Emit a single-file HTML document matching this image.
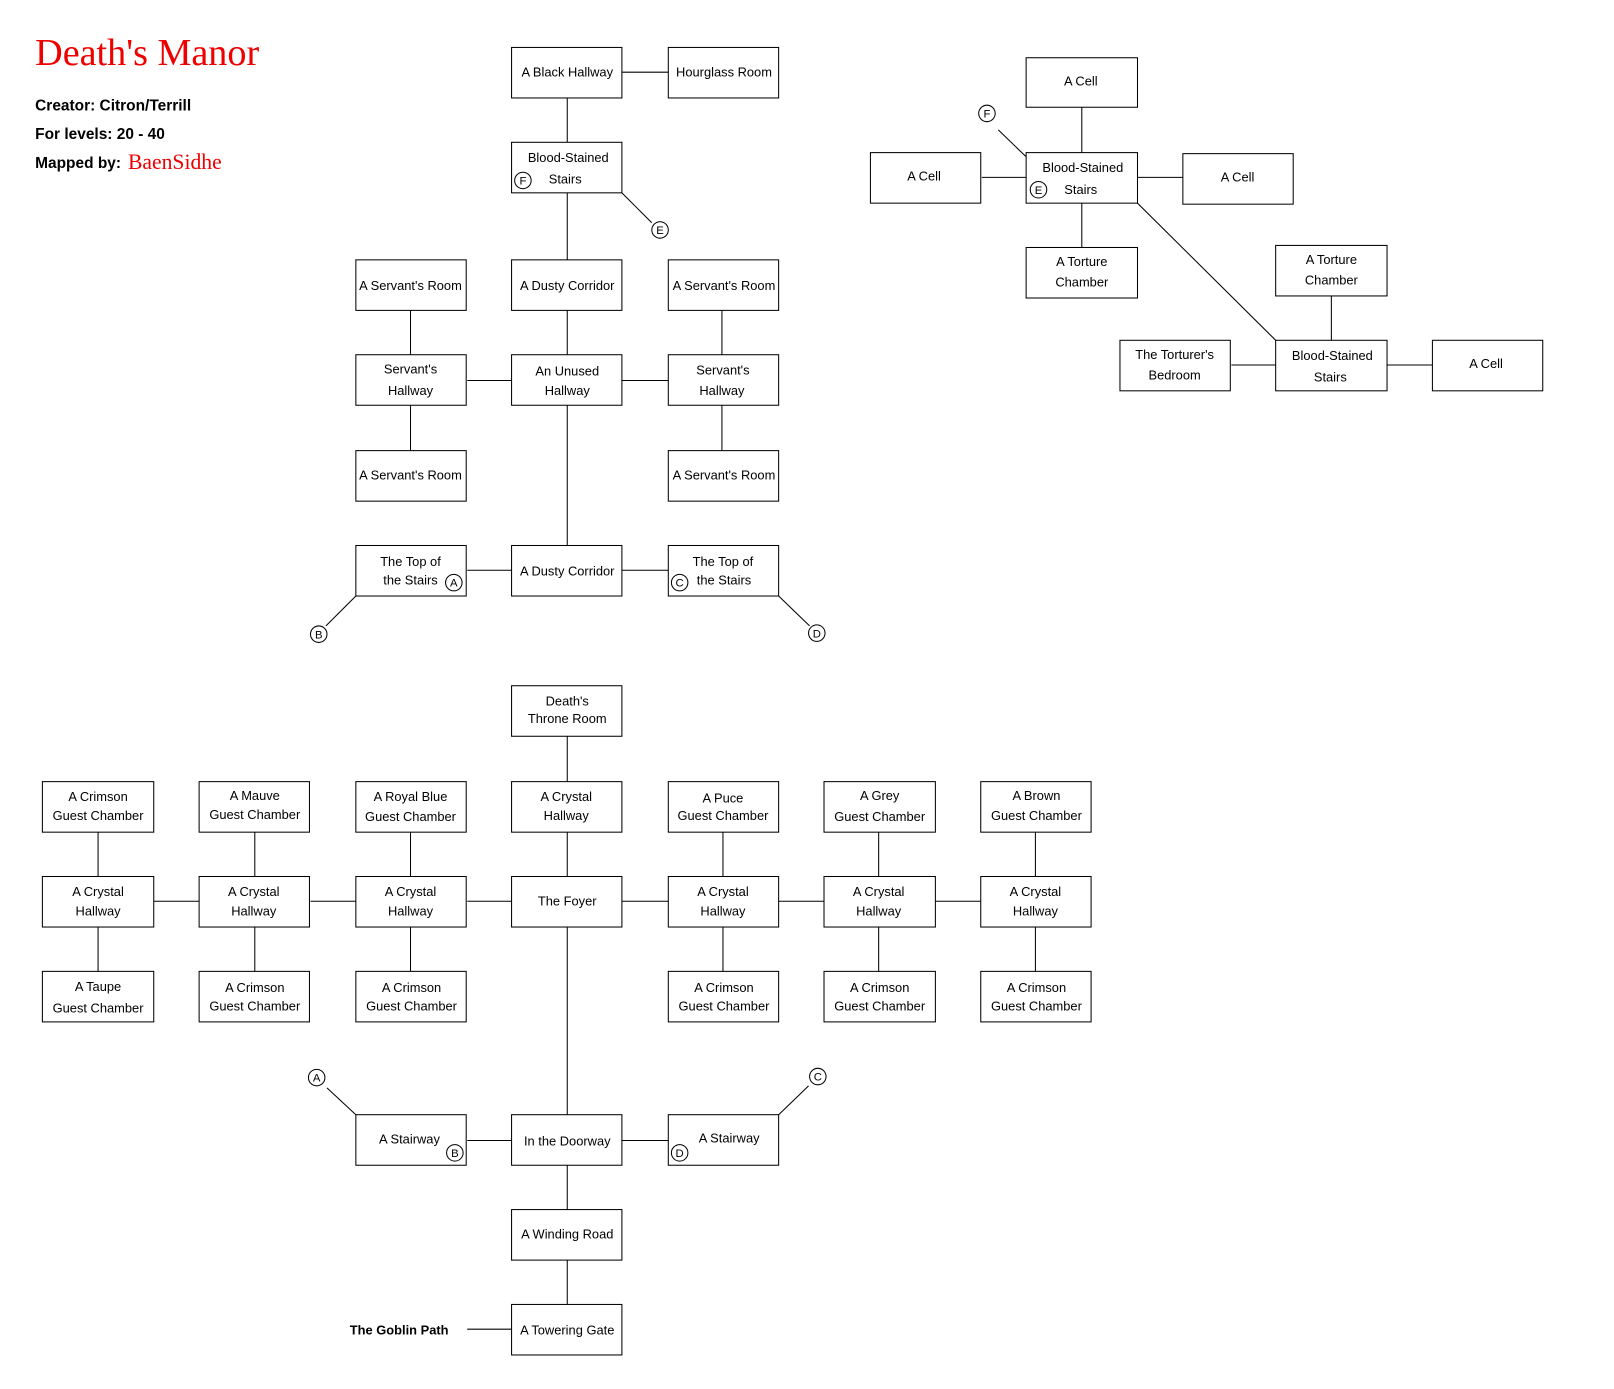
<!DOCTYPE html>
<html><head><meta charset="utf-8"><style>
html,body{margin:0;padding:0;background:#fff;width:1614px;height:1389px;overflow:hidden}
svg text{font-family:"Liberation Sans",sans-serif;font-size:12.5px;fill:#000;text-anchor:middle}
svg .r{fill:#fff;stroke:#000;stroke-width:1}
svg line{stroke:#000;stroke-width:1}
svg circle{fill:#fff;stroke:#000;stroke-width:1}
svg .c{font-size:11px}
</style></head><body>
<svg width="1614" height="1389" viewBox="0 0 1565 1347" xmlns="http://www.w3.org/2000/svg">
<text x="34" y="63" style="font-family:'Liberation Serif',serif;font-size:37px;fill:#e00;text-anchor:start">Death's Manor</text>
<text x="34" y="107" style="font-size:15px;font-weight:bold;text-anchor:start">Creator: Citron/Terrill</text>
<text x="34" y="135" style="font-size:15px;font-weight:bold;text-anchor:start">For levels: 20 - 40</text>
<text x="34" y="163" style="font-size:15px;font-weight:bold;text-anchor:start">Mapped by:</text>
<text x="124" y="164" style="font-family:'Liberation Serif',serif;font-size:21px;fill:#e00;text-anchor:start">BaenSidhe</text>

<line x1="550" y1="95" x2="550" y2="138"/><line x1="550" y1="187" x2="550" y2="252"/>
<line x1="550" y1="301" x2="550" y2="344"/><line x1="550" y1="393" x2="550" y2="529"/>
<line x1="603" y1="70" x2="648" y2="70"/>
<line x1="453" y1="369" x2="496" y2="369"/><line x1="603" y1="369" x2="648" y2="369"/>
<line x1="453" y1="553" x2="496" y2="553"/><line x1="603" y1="553" x2="648" y2="553"/>
<line x1="398" y1="301" x2="398" y2="344"/><line x1="398" y1="393" x2="398" y2="437"/>
<line x1="700" y1="301" x2="700" y2="344"/><line x1="700" y1="393" x2="700" y2="437"/>
<line x1="603" y1="187" x2="632" y2="216"/>
<line x1="345" y1="578" x2="316" y2="607"/>
<line x1="755" y1="578" x2="785" y2="607"/>

<line x1="1049" y1="104" x2="1049" y2="148"/>
<line x1="952" y1="172" x2="995" y2="172"/><line x1="1103" y1="172" x2="1147" y2="172"/>
<line x1="1049" y1="197" x2="1049" y2="240"/>
<line x1="1103" y1="197" x2="1237" y2="330"/>
<line x1="1291" y1="287" x2="1291" y2="330"/>
<line x1="1194" y1="354" x2="1237" y2="354"/><line x1="1345" y1="354" x2="1389" y2="354"/>
<line x1="968" y1="126" x2="995" y2="152"/>

<line x1="550" y1="714" x2="550" y2="758"/><line x1="550" y1="807" x2="550" y2="850"/>
<line x1="550" y1="899" x2="550" y2="1081"/><line x1="550" y1="1130" x2="550" y2="1173"/>
<line x1="550" y1="1222" x2="550" y2="1265"/>
<line x1="149" y1="874" x2="193" y2="874"/><line x1="301" y1="874" x2="345" y2="874"/>
<line x1="453" y1="874" x2="496" y2="874"/><line x1="603" y1="874" x2="648" y2="874"/>
<line x1="755" y1="874" x2="799" y2="874"/><line x1="907" y1="874" x2="951" y2="874"/>
<line x1="95" y1="807" x2="95" y2="850"/><line x1="95" y1="899" x2="95" y2="942"/>
<line x1="247" y1="807" x2="247" y2="850"/><line x1="247" y1="899" x2="247" y2="942"/>
<line x1="398" y1="807" x2="398" y2="850"/><line x1="398" y1="899" x2="398" y2="942"/>
<line x1="701" y1="807" x2="701" y2="850"/><line x1="701" y1="899" x2="701" y2="942"/>
<line x1="852" y1="807" x2="852" y2="850"/><line x1="852" y1="899" x2="852" y2="942"/>
<line x1="1004" y1="807" x2="1004" y2="850"/><line x1="1004" y1="899" x2="1004" y2="942"/>
<line x1="453" y1="1106" x2="496" y2="1106"/><line x1="603" y1="1106" x2="648" y2="1106"/>
<line x1="453" y1="1289" x2="496" y2="1289"/>
<line x1="317" y1="1055" x2="345" y2="1081"/>
<line x1="784" y1="1053" x2="755" y2="1081"/>

<g>
<rect class="r" x="496" y="46" width="107" height="49"/><text x="550" y="74">A Black Hallway</text>
<rect class="r" x="648" y="46" width="107" height="49"/><text x="702" y="74">Hourglass Room</text>
<rect class="r" x="496" y="138" width="107" height="49"/><text x="551" y="157">Blood-Stained</text><text x="548" y="178">Stairs</text>
<rect class="r" x="345" y="252" width="107" height="49"/><text x="398" y="281">A Servant's Room</text>
<rect class="r" x="496" y="252" width="107" height="49"/><text x="550" y="281">A Dusty Corridor</text>
<rect class="r" x="648" y="252" width="107" height="49"/><text x="702" y="281">A Servant's Room</text>
<rect class="r" x="345" y="344" width="107" height="49"/><text x="398" y="362">Servant's</text><text x="398" y="383">Hallway</text>
<rect class="r" x="496" y="344" width="107" height="49"/><text x="550" y="364">An Unused</text><text x="550" y="383">Hallway</text>
<rect class="r" x="648" y="344" width="107" height="49"/><text x="701" y="363">Servant's</text><text x="700" y="383">Hallway</text>
<rect class="r" x="345" y="437" width="107" height="49"/><text x="398" y="465">A Servant's Room</text>
<rect class="r" x="648" y="437" width="107" height="49"/><text x="702" y="465">A Servant's Room</text>
<rect class="r" x="345" y="529" width="107" height="49"/><text x="398" y="549">The Top of</text><text x="398" y="567">the Stairs</text>
<rect class="r" x="496" y="529" width="107" height="49"/><text x="550" y="558">A Dusty Corridor</text>
<rect class="r" x="648" y="529" width="107" height="49"/><text x="701" y="549">The Top of</text><text x="702" y="567">the Stairs</text>

<rect class="r" x="995" y="56" width="108" height="48"/><text x="1048" y="83">A Cell</text>
<rect class="r" x="844" y="148" width="107" height="49"/><text x="896" y="175">A Cell</text>
<rect class="r" x="995" y="148" width="108" height="49"/><text x="1050" y="167">Blood-Stained</text><text x="1048" y="188">Stairs</text>
<rect class="r" x="1147" y="149" width="107" height="49"/><text x="1200" y="176">A Cell</text>
<rect class="r" x="995" y="240" width="108" height="49"/><text x="1049" y="258">A Torture</text><text x="1049" y="278">Chamber</text>
<rect class="r" x="1237" y="238" width="108" height="49"/><text x="1291" y="256">A Torture</text><text x="1291" y="276">Chamber</text>
<rect class="r" x="1086" y="330" width="107" height="49"/><text x="1139" y="348">The Torturer's</text><text x="1139" y="368">Bedroom</text>
<rect class="r" x="1237" y="330" width="108" height="49"/><text x="1292" y="349">Blood-Stained</text><text x="1290" y="370">Stairs</text>
<rect class="r" x="1389" y="330" width="107" height="49"/><text x="1441" y="357">A Cell</text>

<rect class="r" x="496" y="665" width="107" height="49"/><text x="550" y="684">Death's</text><text x="550" y="701">Throne Room</text>

<rect class="r" x="41" y="758" width="108" height="49"/><text x="95" y="777">A Crimson</text><text x="95" y="795">Guest Chamber</text>
<rect class="r" x="193" y="758" width="107" height="49"/><text x="247" y="776">A Mauve</text><text x="247" y="794">Guest Chamber</text>
<rect class="r" x="345" y="758" width="107" height="49"/><text x="398" y="777">A Royal Blue</text><text x="398" y="796">Guest Chamber</text>
<rect class="r" x="496" y="758" width="107" height="49"/><text x="549" y="777">A Crystal</text><text x="549" y="795">Hallway</text>
<rect class="r" x="648" y="758" width="107" height="49"/><text x="701" y="778">A Puce</text><text x="701" y="795">Guest Chamber</text>
<rect class="r" x="799" y="758" width="108" height="49"/><text x="853" y="776">A Grey</text><text x="853" y="796">Guest Chamber</text>
<rect class="r" x="951" y="758" width="107" height="49"/><text x="1005" y="776">A Brown</text><text x="1005" y="795">Guest Chamber</text>

<rect class="r" x="41" y="850" width="108" height="49"/><text x="95" y="869">A Crystal</text><text x="95" y="888">Hallway</text>
<rect class="r" x="193" y="850" width="107" height="49"/><text x="246" y="869">A Crystal</text><text x="246" y="888">Hallway</text>
<rect class="r" x="345" y="850" width="107" height="49"/><text x="398" y="869">A Crystal</text><text x="398" y="888">Hallway</text>
<rect class="r" x="496" y="850" width="107" height="49"/><text x="550" y="878">The Foyer</text>
<rect class="r" x="648" y="850" width="107" height="49"/><text x="701" y="869">A Crystal</text><text x="701" y="888">Hallway</text>
<rect class="r" x="799" y="850" width="108" height="49"/><text x="852" y="869">A Crystal</text><text x="852" y="888">Hallway</text>
<rect class="r" x="951" y="850" width="107" height="49"/><text x="1004" y="869">A Crystal</text><text x="1004" y="888">Hallway</text>

<rect class="r" x="41" y="942" width="108" height="49"/><text x="95" y="961">A Taupe</text><text x="95" y="982">Guest Chamber</text>
<rect class="r" x="193" y="942" width="107" height="49"/><text x="247" y="962">A Crimson</text><text x="247" y="980">Guest Chamber</text>
<rect class="r" x="345" y="942" width="107" height="49"/><text x="399" y="962">A Crimson</text><text x="399" y="980">Guest Chamber</text>
<rect class="r" x="648" y="942" width="107" height="49"/><text x="702" y="962">A Crimson</text><text x="702" y="980">Guest Chamber</text>
<rect class="r" x="799" y="942" width="108" height="49"/><text x="853" y="962">A Crimson</text><text x="853" y="980">Guest Chamber</text>
<rect class="r" x="951" y="942" width="107" height="49"/><text x="1005" y="962">A Crimson</text><text x="1005" y="980">Guest Chamber</text>

<rect class="r" x="345" y="1081" width="107" height="49"/><text x="397" y="1109">A Stairway</text>
<rect class="r" x="496" y="1081" width="107" height="49"/><text x="550" y="1111">In the Doorway</text>
<rect class="r" x="648" y="1081" width="107" height="49"/><text x="707" y="1108">A Stairway</text>
<rect class="r" x="496" y="1173" width="107" height="49"/><text x="550" y="1201">A Winding Road</text>
<rect class="r" x="496" y="1265" width="107" height="49"/><text x="550" y="1294">A Towering Gate</text>
<text x="387" y="1294" style="font-weight:bold;font-size:12.5px">The Goblin Path</text>
</g>

<g>
<circle cx="507" cy="175" r="8"/><text class="c" x="507" y="179">F</text>
<circle cx="640" cy="223" r="8"/><text class="c" x="640" y="227">E</text>
<circle cx="440" cy="565" r="8"/><text class="c" x="440" y="569">A</text>
<circle cx="659" cy="565" r="8"/><text class="c" x="659" y="569">C</text>
<circle cx="309" cy="615" r="8"/><text class="c" x="309" y="619">B</text>
<circle cx="792" cy="614" r="8"/><text class="c" x="792" y="618">D</text>
<circle cx="957" cy="110" r="8"/><text class="c" x="957" y="114">F</text>
<circle cx="1007" cy="184" r="8"/><text class="c" x="1007" y="188">E</text>
<circle cx="307" cy="1045" r="8"/><text class="c" x="307" y="1049">A</text>
<circle cx="793" cy="1044" r="8"/><text class="c" x="793" y="1048">C</text>
<circle cx="441" cy="1118" r="8"/><text class="c" x="441" y="1122">B</text>
<circle cx="659" cy="1118" r="8"/><text class="c" x="659" y="1122">D</text>
</g>
</svg>
</body></html>
